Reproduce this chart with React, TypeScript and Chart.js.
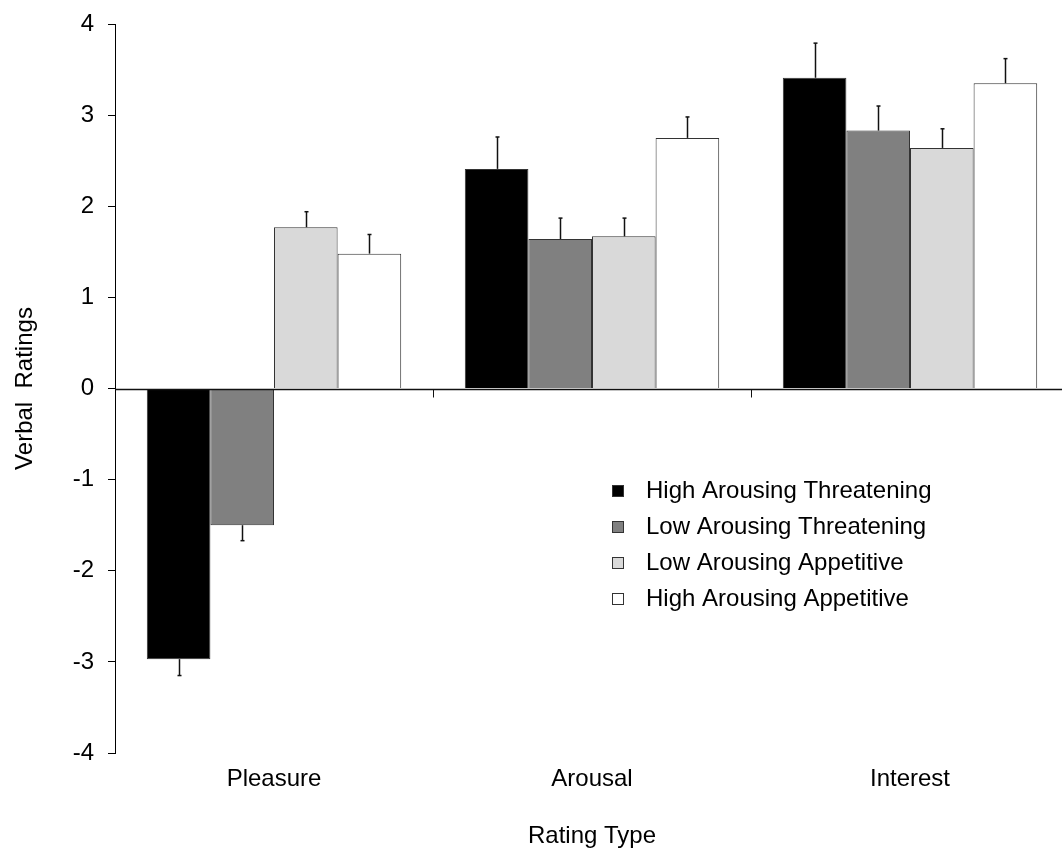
import React, { useEffect, useRef } from 'react';
import { Chart, registerables } from 'chart.js';

Chart.register(...registerables);

const categories = ['Pleasure', 'Arousal', 'Interest'];
const seriesLabels = [
  'High Arousing Threatening',
  'Low Arousing Threatening',
  'Low Arousing Appetitive',
  'High Arousing Appetitive',
];
const highThreatValues = [-2.97, 2.41, 3.41];
const highThreatErrors = [0.18, 0.35, 0.38];
const lowThreatValues = [-1.5, 1.64, 2.83];
const lowThreatErrors = [0.17, 0.23, 0.27];
const lowAppValues = [1.77, 1.67, 2.64];
const lowAppErrors = [0.17, 0.2, 0.21];
const highAppValues = [1.48, 2.75, 3.35];
const highAppErrors = [0.21, 0.23, 0.27];
const yMin = -4;
const yMax = 4;
const yStep = 1;
const xTitle = 'Rating Type';
const yTitle = 'Verbal  Ratings';

const FONT = '"Liberation Sans", Arial, Helvetica, sans-serif';

const errorBarPlugin = {
  id: 'errorBars',
  afterDatasetsDraw(chart: any) {
    const ctx = chart.ctx;
    const yScale = chart.scales.y;
    chart.data.datasets.forEach((ds: any, di: number) => {
      const meta = chart.getDatasetMeta(di);
      meta.data.forEach((bar: any, i: number) => {
        const v = ds.data[i];
        const e = ds.errors[i];
        const end = v >= 0 ? v + e : v - e;
        const yEnd = yScale.getPixelForValue(end);
        const x = Math.round(bar.x) + 0.5;
        ctx.save();
        ctx.strokeStyle = '#111';
        ctx.lineWidth = 1.5;
        ctx.beginPath();
        ctx.moveTo(x, bar.y);
        ctx.lineTo(x, yEnd);
        ctx.stroke();
        ctx.beginPath();
        ctx.moveTo(x - 2, yEnd);
        ctx.lineTo(x + 2, yEnd);
        ctx.stroke();
        ctx.restore();
      });
    });
  },
};

const zeroAxisPlugin = {
  id: 'zeroAxis',
  afterDatasetsDraw(chart: any) {
    const ctx = chart.ctx;
    const { left, right } = chart.chartArea;
    const y0 = Math.round(chart.scales.y.getPixelForValue(0)) + 0.5;
    const xs = chart.scales.x;
    ctx.save();
    ctx.strokeStyle = '#111';
    ctx.lineWidth = 1.5;
    ctx.beginPath();
    ctx.moveTo(left, y0);
    ctx.lineTo(right, y0);
    ctx.stroke();
    ctx.lineWidth = 1;
    for (let i = 0; i < categories.length - 1; i++) {
      const bx = Math.round((xs.getPixelForTick(i) + xs.getPixelForTick(i + 1)) / 2) + 0.5;
      ctx.beginPath();
      ctx.moveTo(bx, y0);
      ctx.lineTo(bx, y0 + 8);
      ctx.stroke();
    }
    ctx.restore();
  },
};

const legendPlugin = {
  id: 'customLegend',
  afterDraw(chart: any) {
    const ctx = chart.ctx;
    ctx.save();
    ctx.font = `24px ${FONT}`;
    ctx.textBaseline = 'middle';
    ctx.textAlign = 'left';
    chart.data.datasets.forEach((ds: any, i: number) => {
      const cy = 491 + i * 36;
      ctx.fillStyle = ds.backgroundColor;
      ctx.fillRect(612, cy - 6, 12, 12);
      ctx.strokeStyle = '#333';
      ctx.lineWidth = 1;
      ctx.strokeRect(612.5, cy - 5.5, 11, 11);
      ctx.fillStyle = '#000';
      ctx.fillText(ds.label, 646, cy);
    });
    ctx.restore();
  },
};

export default function App() {
  const ref = useRef<HTMLCanvasElement | null>(null);

  useEffect(() => {
    if (!ref.current) return;
    Chart.defaults.font.family = FONT;
    Chart.defaults.font.size = 24;
    Chart.defaults.color = '#000';
    const values = [highThreatValues, lowThreatValues, lowAppValues, highAppValues];
    const errors = [highThreatErrors, lowThreatErrors, lowAppErrors, highAppErrors];
    const colors = ['#000000', '#808080', '#d9d9d9', '#ffffff'];
    const chart = new Chart(ref.current, {
      type: 'bar',
      data: {
        labels: categories,
        datasets: seriesLabels.map((label, i) => ({
          label,
          data: values[i],
          errors: errors[i],
          backgroundColor: colors[i],
          borderColor: '#333333',
          borderWidth: 1,
          borderSkipped: 'start',
          categoryPercentage: 0.8,
          barPercentage: 1.0,
        })) as any,
      },
      options: {
        animation: false,
        responsive: false,
        devicePixelRatio: 1,
        layout: { padding: { top: 24, right: 11, bottom: 0, left: 0 } },
        plugins: {
          legend: { display: false },
          tooltip: { enabled: false },
        },
        scales: {
          x: {
            type: 'category',
            grid: { display: false, drawTicks: false },
            border: { display: false },
            ticks: { padding: 12, color: '#000', font: { size: 24 } },
            title: {
              display: true,
              text: xTitle,
              color: '#000',
              font: { size: 24 },
              padding: { top: 0, bottom: 1 },
            },
            afterFit(s: any) {
              s.height = 99;
              s.paddingLeft = 0;
              s.paddingRight = 0;
            },
          },
          y: {
            min: yMin,
            max: yMax,
            ticks: { stepSize: yStep, padding: 14, color: '#000', font: { size: 24 } },
            grid: {
              drawOnChartArea: false,
              drawTicks: true,
              tickLength: 7,
              color: '#000',
              lineWidth: 1,
            },
            border: { display: true, color: '#000', width: 1 },
            title: {
              display: true,
              text: yTitle,
              color: '#000',
              font: { size: 24 },
              padding: { top: 11, bottom: 0 },
            },
            afterFit(s: any) {
              s.width = 115;
              s.paddingTop = 0;
              s.paddingBottom = 0;
            },
          },
        },
      } as any,
      plugins: [zeroAxisPlugin, errorBarPlugin, legendPlugin],
    });
    return () => chart.destroy();
  }, []);

  return (
    <div
      style={{
        position: 'fixed',
        left: 0,
        top: 0,
        width: 1062,
        height: 852,
        overflow: 'hidden',
        background: '#fff',
      }}
    >
      <canvas
        ref={ref}
        width={1080}
        height={852}
        style={{ width: 1080, height: 852, display: 'block' }}
      />
    </div>
  );
}
